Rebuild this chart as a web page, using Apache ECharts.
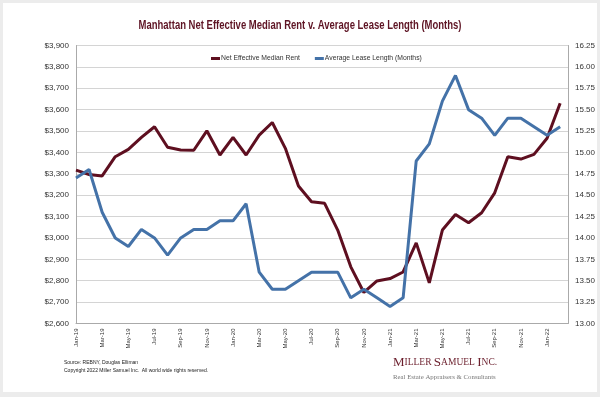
<!DOCTYPE html>
<html>
<head>
<meta charset="utf-8">
<style>
  html, body { margin: 0; padding: 0; background: #ececec; }
  #chart { width: 600px; height: 397px; }
</style>
<script src="https://cdn.jsdelivr.net/npm/echarts@6/dist/echarts.min.js"></script>
</head>
<body>
<div id="chart"></div>
<script>
// months Jan-19 .. Feb-22
var months = [
  'Jan-19', 'Feb-19', 'Mar-19', 'Apr-19', 'May-19', 'Jun-19', 'Jul-19', 'Aug-19', 'Sep-19', 'Oct-19', 'Nov-19', 'Dec-19',
  'Jan-20', 'Feb-20', 'Mar-20', 'Apr-20', 'May-20', 'Jun-20', 'Jul-20', 'Aug-20', 'Sep-20', 'Oct-20', 'Nov-20', 'Dec-20',
  'Jan-21', 'Feb-21', 'Mar-21', 'Apr-21', 'May-21', 'Jun-21', 'Jul-21', 'Aug-21', 'Sep-21', 'Oct-21', 'Nov-21', 'Dec-21',
  'Jan-22', 'Feb-22'
]
var rent = [
  3317, 3297, 3290, 3380, 3414, 3470, 3520, 3424, 3411, 3410, 3501, 3388,
  3470, 3388, 3481, 3540, 3419, 3243, 3169, 3162, 3037, 2865, 2745, 2799,
  2810, 2841, 2977, 2790, 3037, 3110, 3071, 3118, 3211, 3380, 3369, 3391,
  3466, 3630
]
var leaseLength = [
  14.70, 14.80, 14.30, 14.00, 13.90, 14.10, 14.00, 13.80, 14.00, 14.10, 14.10, 14.20,
  14.20, 14.40, 13.60, 13.40, 13.40, 13.50, 13.60, 13.60, 13.60, 13.30, 13.40, 13.30,
  13.20, 13.30, 14.90, 15.10, 15.60, 15.90, 15.50, 15.40, 15.20, 15.40, 15.40, 15.30,
  15.20, 15.30
]

var chart = echarts.init(document.getElementById('chart'))

chart.setOption({
  backgroundColor: '#ececec',
  animation: false,
  textStyle: { fontFamily: 'Liberation Sans, Arial, sans-serif' },
  legend: {
    top: 50,
    left: 206,
    itemWidth: 9,
    itemHeight: 3,
    itemGap: 15,
    icon: 'rect',
    textStyle: { fontSize: 6.8, color: '#333', padding: [0, 0, 0, -4] },
    data: ['Net Effective Median Rent', 'Average Lease Length (Months)']
  },
  graphic: [
    {
      type: 'rect',
      z: -10,
      shape: { x: 3, y: 3, width: 594, height: 389 },
      style: { fill: '#ffffff' }
    },
    {
      // title, squeezed to look like the condensed original font
      type: 'text',
      x: 300,
      y: 26,
      scaleX: 0.76,
      style: {
        text: 'Manhattan Net Effective Median Rent v. Average Lease Length (Months)',
        x: 0,
        y: 0,
        align: 'center',
        verticalAlign: 'middle',
        fontSize: 12.5,
        fontWeight: 'bold',
        fill: '#5e1424',
        fontFamily: 'Liberation Sans, Arial, sans-serif'
      }
    },
    {
      type: 'text',
      left: 64,
      top: 360,
      style: { text: 'Source: REBNY, Douglas Elliman', fontSize: 5, fill: '#222', fontFamily: 'Liberation Sans, Arial, sans-serif' }
    },
    {
      type: 'text',
      left: 64,
      top: 368,
      style: { text: 'Copyright 2022 Miller Samuel Inc.  All world wide rights reserved.', fontSize: 5, fill: '#222', fontFamily: 'Liberation Sans, Arial, sans-serif' }
    },
    {
      type: 'text',
      left: 393,
      top: 356,
      style: {
        text: '{b|M}{s|ILLER }{b|S}{s|AMUEL }{b|I}{s|NC.}',
        rich: {
          b: { fontSize: 13, fill: '#6b1e2c', fontFamily: 'Liberation Serif, serif' },
          s: { fontSize: 9.5, fill: '#6b1e2c', fontFamily: 'Liberation Serif, serif' }
        }
      }
    },
    {
      type: 'text',
      left: 393,
      top: 374,
      style: { text: 'Real Estate Appraisers & Consultants', fontSize: 6.8, fill: '#777', fontFamily: 'Liberation Serif, serif' }
    }
  ],
  grid: {
    left: 76,
    right: 32,
    top: 45.5,
    bottom: 73.5,
    show: true,
    backgroundColor: '#fff',
    borderWidth: 0
  },
  xAxis: {
    type: 'value',
    min: 0,
    max: 37.6,
    interval: 2,
    splitLine: { show: false },
    axisLine: { lineStyle: { color: '#aaa' } },
    axisTick: { show: false },
    axisLabel: {
      rotate: 90,
      fontSize: 6,
      color: '#333',
      margin: 5,
      showMaxLabel: false,
      formatter: function (v) {
        return Number.isInteger(v) && months[v] ? months[v] : ''
      }
    }
  },
  yAxis: [
    {
      type: 'value',
      min: 2600,
      max: 3900,
      interval: 100,
      axisLine: { show: true, lineStyle: { color: '#aaa' } },
      axisTick: { show: false },
      splitLine: { lineStyle: { color: '#d4d4d4' } },
      axisLabel: {
        fontSize: 8,
        color: '#333',
        margin: 7,
        formatter: function (v) {
          return '$' + v.toLocaleString('en-US')
        }
      }
    },
    {
      type: 'value',
      position: 'right',
      min: 13,
      max: 16.25,
      interval: 0.25,
      axisLine: { show: true, lineStyle: { color: '#aaa' } },
      axisTick: { show: false },
      splitLine: { show: false },
      axisLabel: {
        fontSize: 8,
        color: '#333',
        margin: 7,
        formatter: function (v) {
          return v.toFixed(2)
        }
      }
    }
  ],
  series: [
    {
      name: 'Net Effective Median Rent',
      type: 'line',
      yAxisIndex: 0,
      symbol: 'none',
      color: '#5e0f20',
      lineStyle: { width: 3, color: '#5e0f20' },
      data: months.map(function (m, i) { return [i, rent[i]] })
    },
    {
      name: 'Average Lease Length (Months)',
      type: 'line',
      yAxisIndex: 1,
      symbol: 'none',
      color: '#4472a8',
      lineStyle: { width: 3, color: '#4472a8' },
      data: months.map(function (m, i) { return [i, leaseLength[i]] })
    }
  ]
})
</script>
</body>
</html>
